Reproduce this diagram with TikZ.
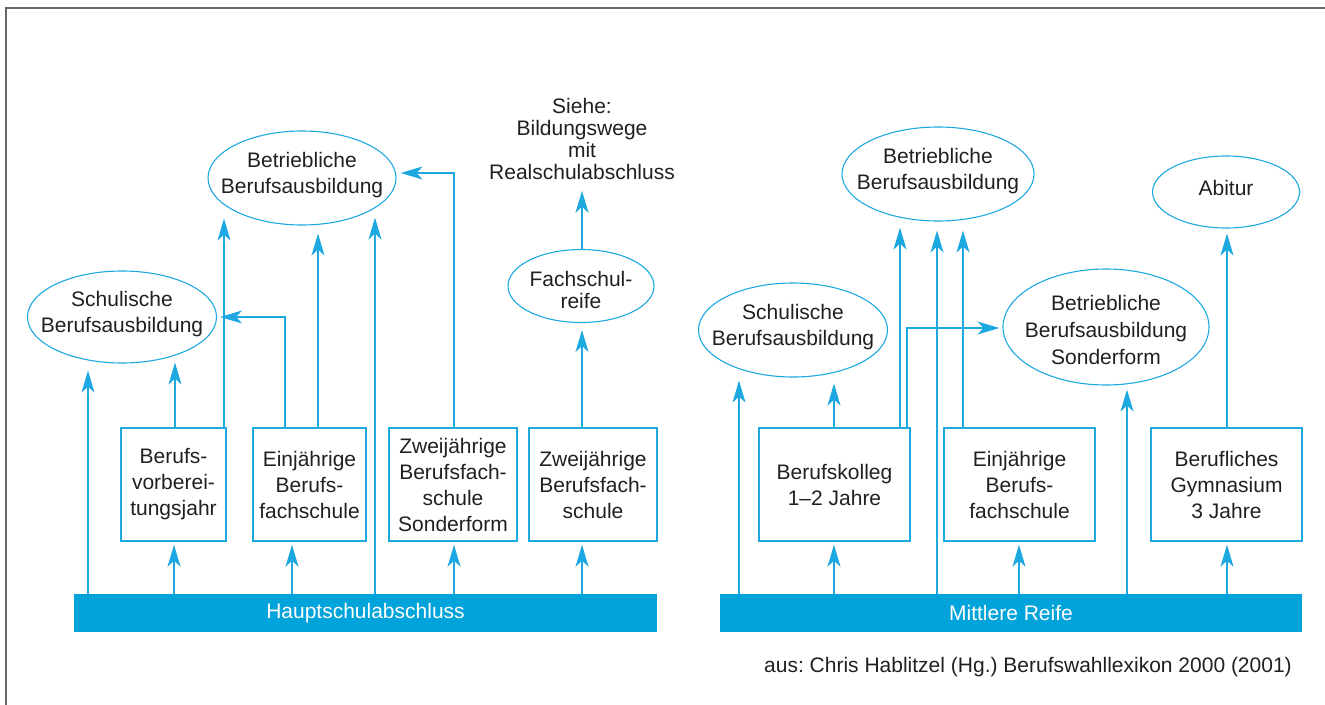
\documentclass[tikz,border=0pt]{standalone}
\usepackage{fontspec}
\setmainfont{Liberation Sans}
\usetikzlibrary{shapes.geometric,arrows.meta,calc}
\definecolor{barblue}{RGB}{0,163,218}
\definecolor{cyanline}{RGB}{30,168,224}
\definecolor{txt}{RGB}{35,31,32}
\newcommand\myfs{\fontsize{21}{26}\selectfont}
\newcommand\myfsw{\fontsize{21}{27}\selectfont}
\newcommand\myfst{\fontsize{21}{22}\selectfont}
\frenchspacing
\begin{document}
\begin{tikzpicture}[x=1pt,y=-1pt,
  ln/.style={draw=cyanline, line width=1.4pt},
  arr/.style={draw=cyanline, line width=1.4pt, -{Stealth[length=22pt,width=13pt,inset=6pt]}},
  stepbox/.style={draw=cyanline, line width=1.4pt, rectangle, inner sep=0pt, align=center, font=\myfs, text=txt, minimum height=113pt},
  ell/.style={draw=cyanline, line width=1.1pt, ellipse, inner sep=0pt},
  lbl/.style={align=center, font=\myfs, text=txt, inner sep=0pt},
  lblt/.style={align=center, font=\myfst, text=txt, inner sep=0pt},
  bar/.style={fill=barblue, text=white, inner sep=0pt, font=\myfs, minimum height=38pt}
]
\useasboundingbox (0,0) rectangle (1325,704);
\draw[draw=black!60, line width=1.5pt] (6,720) -- (6,8) -- (1340,8);

% ---------- left part ----------
\node[bar, minimum width=583pt] (H) at (365.5,613) {Hauptschulabschluss};
\node[stepbox, minimum width=105pt] (BV) at (173.5,484.5) {Berufs-\\vorberei-\\tungsjahr};
\node[stepbox, minimum width=113pt] (EB) at (309.5,484.5) {Einjährige\\Berufs-\\fachschule};
\node[stepbox, minimum width=128pt] (ZS) at (453,484.5) {Zweijährige\\Berufsfach-\\schule\\Sonderform};
\node[stepbox, minimum width=128pt] (ZB) at (593,484.5) {Zweijährige\\Berufsfach-\\schule};

\node[ell, minimum width=189pt, minimum height=92pt] (SL) at (122,317) {};
\node[lbl, yshift=3pt] at (SL) {Schulische\\Berufsausbildung};
\node[ell, minimum width=188pt, minimum height=94pt] (BL) at (302,178) {};
\node[lbl, yshift=3pt] at (BL) {Betriebliche\\Berufsausbildung};
\node[ell, minimum width=146pt, minimum height=73pt] (FR) at (581,286) {};
\node[lblt, yshift=-4pt] at (FR) {Fachschul-\\reife};
\node[lblt, anchor=north] (S) at (582,98) {Siehe:\\Bildungswege\\mit\\Realschulabschluss};

\draw[arr] (H.north -| 88,0) -- ($(SL.south -| 88,0)+(0,7)$);
\draw[arr] (BV.north -| 175,0) -- ($(SL.south -| 175,0)+(0,-1)$);
\draw[arr] (BV.north -| 224,0) -- ($(BL.south -| 224,0)+(0,-7)$);
\draw[arr] (EB.north -| 285,0) |- ($(SL.east)+(3,0)$);
\draw[arr] (EB.north -| 318,0) -- ($(BL.south -| 318,0)+(0,8)$);
\draw[arr] (H.north -| 375,0) -- ($(BL.south -| 375,0)+(0,-8)$);
\draw[arr] (ZS.north -| 454,0) |- ($(BL.east)+(4,-5)$);
\draw[arr] (ZB.north -| 582,0) -- ($(FR.south -| 582,0)+(0,7)$);
\draw[arr] (FR.north -| 582,0) -- ($(S.south -| 582,0)+(0,11)$);

\draw[arr] (H.north -| 174,0) -- ($(BV.south -| 174,0)+(0,3)$);
\draw[arr] (H.north -| 292,0) -- ($(EB.south -| 292,0)+(0,3)$);
\draw[arr] (H.north -| 454,0) -- ($(ZS.south -| 454,0)+(0,3)$);
\draw[arr] (H.north -| 582,0) -- ($(ZB.south -| 582,0)+(0,3)$);

% ---------- right part ----------
\node[bar, minimum width=582pt] (M) at (1011,613) {Mittlere Reife};
\node[stepbox, minimum width=151pt] (BK) at (834.5,484.5) {Berufskolleg\\1–2 Jahre};
\node[stepbox, minimum width=151pt] (EJ) at (1019.5,484.5) {Einjährige\\Berufs-\\fachschule};
\node[stepbox, minimum width=151pt] (BG) at (1226.5,484.5) {Berufliches\\Gymnasium\\3 Jahre};

\node[ell, minimum width=189pt, minimum height=94pt] (SR) at (793,330) {};
\node[lbl, yshift=3pt] at (SR) {Schulische\\Berufsausbildung};
\node[ell, minimum width=192pt, minimum height=94pt] (BR) at (938,174) {};
\node[lbl, yshift=3pt] at (BR) {Betriebliche\\Berufsausbildung};
\node[ell, minimum width=206pt, minimum height=116pt] (BS) at (1106,327) {};
\node[lbl, font=\myfsw, yshift=-3pt] at (BS) {Betriebliche\\Berufsausbildung\\Sonderform};
\node[ell, minimum width=147pt, minimum height=72pt] (AB) at (1226,192) {};
\node[lbl, yshift=4pt] at (AB) {Abitur};

\draw[arr] (M.north -| 739,0) -- ($(SR.south -| 739,0)+(0,3)$);
\draw[arr] (BK.north -| 834,0) -- ($(SR.south -| 834,0)+(0,6)$);
\draw[arr] (BK.north -| 900,0) -- ($(BR.south -| 900,0)+(0,6)$);
\draw[arr] (BK.north -| 907,0) |- ($(BS.west)+(-3,1)$);
\draw[arr] (M.north -| 937,0) -- ($(BR.south -| 937,0)+(0,9)$);
\draw[arr] (EJ.north -| 963,0) -- ($(BR.south -| 963,0)+(0,9)$);
\draw[arr] (M.north -| 1127,0) -- ($(BS.south -| 1127,0)+(0,4)$);
\draw[arr] (BG.north -| 1227,0) -- ($(AB.south -| 1227,0)+(0,5)$);

\draw[arr] (M.north -| 834,0) -- ($(BK.south -| 834,0)+(0,3)$);
\draw[arr] (M.north -| 1019,0) -- ($(EJ.south -| 1019,0)+(0,3)$);
\draw[arr] (M.north -| 1227,0) -- ($(BG.south -| 1227,0)+(0,3)$);

\node[lbl, anchor=base east] (SRC) at (1292,672) {aus: Chris Hablitzel (Hg.) Berufswahllexikon 2000 (2001)};
\end{tikzpicture}
\end{document}
